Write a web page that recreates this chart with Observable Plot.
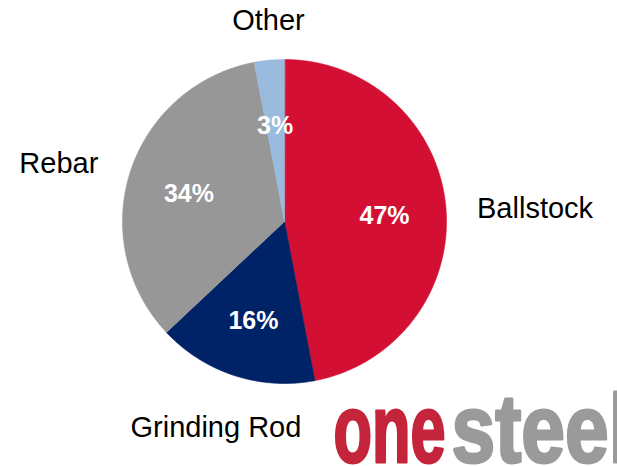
<!DOCTYPE html>
<html>
<head>
<meta charset="utf-8">
<script src="https://cdn.jsdelivr.net/npm/d3@7"></script>
<script src="https://cdn.jsdelivr.net/npm/@observablehq/plot@0.6"></script>
<style>
  html, body { margin: 0; padding: 0; background: #fff; overflow: hidden; }
  #chart svg { display: block; }
</style>
</head>
<body>
<div id="chart"></div>
<script>
// ---- data ----
const categories = ["Ballstock", "Grinding Rod", "Rebar", "Other"];
const shares = [47, 16, 34, 3];
const colors = ["#D31033", "#002266", "#979797", "#99BBDD"];
const logoParts = ["one", "steel"];
const logoColors = ["#C4253A", "#9A9A9A"];

// ---- layout ----
const W = 617, H = 466;
const cx = 284, cy = 221, R = 162;
const toX = px => (px - cx) / R;
const toY = py => (cy - py) / R;

// slice geometry (angles clockwise from 12 o'clock)
const total = d3.sum(shares);
const slices = [];
let acc = 0;
categories.forEach((c, i) => {
  const a0 = acc / total * 2 * Math.PI;
  acc += shares[i];
  const a1 = acc / total * 2 * Math.PI;
  slices.push({cat: c, share: shares[i], a0, a1, mid: (a0 + a1) / 2});
});

const pts = [];
slices.forEach(s => {
  pts.push({cat: s.cat, x: 0, y: 0});
  const n = Math.max(2, Math.ceil((s.a1 - s.a0) / (Math.PI / 360)));
  for (let k = 0; k <= n; k++) {
    const a = s.a0 + (s.a1 - s.a0) * k / n;
    pts.push({cat: s.cat, x: Math.sin(a), y: Math.cos(a)});
  }
});

const inner = slices.map(s => ({
  text: s.share + "%", x: 0.62 * Math.sin(s.mid), y: 0.62 * Math.cos(s.mid)
}));
const outer = slices.map(s => ({
  text: s.cat, x: 1.51 * Math.sin(s.mid), y: 1.29 * Math.cos(s.mid)
}));

const font = "Liberation Sans, Arial, Helvetica, sans-serif";

const chart = Plot.plot({
  width: W,
  height: H,
  margin: 0,
  x: {domain: [toX(0), toX(W)], range: [0, W], axis: null},
  y: {domain: [toY(H), toY(0)], range: [H, 0], axis: null},
  color: {domain: categories, range: colors},
  style: {background: "#fff", fontFamily: font},
  marks: [
    Plot.line(pts, {
      x: "x", y: "y", z: "cat", fill: "cat", stroke: "cat",
      strokeWidth: 0.6, curve: "linear-closed"
    }),
    Plot.text(inner, {
      x: "x", y: "y", text: "text", dy: 4,
      fill: "white", fontSize: 25, fontWeight: "bold", fontFamily: font
    }),
    Plot.text(outer, {
      x: "x", y: "y", text: "text", dx: 7, dy: 7,
      fill: "black", fontSize: 29, fontFamily: font
    }),
    Plot.text([logoParts[0]], {
      x: [toX(333)], y: [toY(431)], text: d => d, textAnchor: "start",
      fill: logoColors[0], stroke: logoColors[0], strokeWidth: 3,
      fontSize: 96, fontWeight: "bold", fontFamily: font
    }),
    Plot.text([logoParts[1]], {
      x: [toX(451)], y: [toY(431)], text: d => d, textAnchor: "start",
      fill: logoColors[1], stroke: logoColors[1], strokeWidth: 3,
      fontSize: 96, fontWeight: "bold", fontFamily: font
    })
  ]
});

// condense the logo word-mark
d3.select(chart).selectAll("text").each(function() {
  const t = this.textContent;
  if (t === "one") d3.select(this).attr("textLength", 112).attr("lengthAdjust", "spacingAndGlyphs");
  if (t === "steel") d3.select(this).attr("textLength", 179).attr("lengthAdjust", "spacingAndGlyphs");
});

document.getElementById("chart").appendChild(chart);
</script>
</body>
</html>
